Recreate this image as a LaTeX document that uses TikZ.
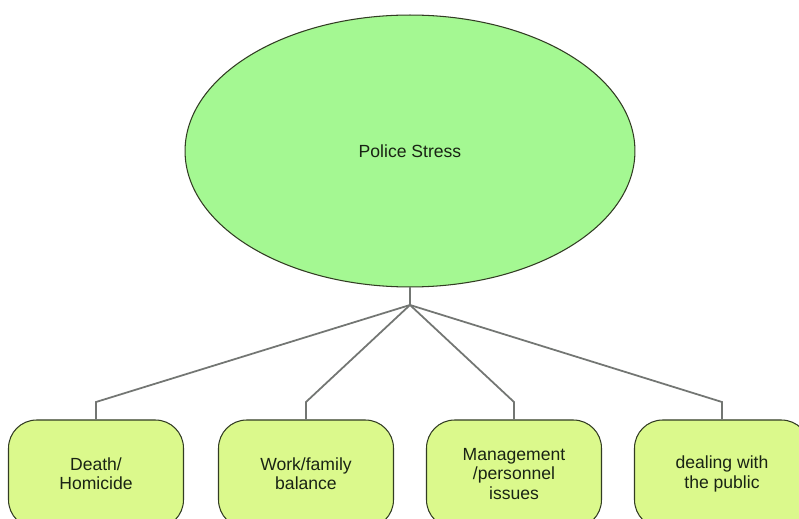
\documentclass[tikz,border=0pt]{standalone}
\usepackage{fontspec}
\setmainfont{Liberation Sans}
\usetikzlibrary{shapes.geometric}
\definecolor{stressgreen}{RGB}{164,248,146}
\definecolor{causegreen}{RGB}{219,249,140}
\definecolor{edgeolive}{RGB}{50,60,35}
\definecolor{linkgray}{RGB}{115,118,115}
\definecolor{textdark}{RGB}{25,35,20}
\tikzset{
    stressnode/.style={ellipse, draw=edgeolive, fill=stressgreen, line width=0.6pt,
        minimum width=9cm, minimum height=5.44cm, inner sep=0pt,
        text=textdark, font=\fontsize{10}{12}\selectfont},
    causebox/.style={rectangle, rounded corners=16pt, draw=edgeolive, fill=causegreen,
        line width=0.6pt, minimum width=3.5cm, minimum height=2.16cm, align=center,
        text=textdark, font=\fontsize{10}{11}\selectfont},
    link/.style={draw=linkgray, line width=1pt}
}
\begin{document}
\begin{tikzpicture}[x=0.02cm, y=0.02cm]
        \useasboundingbox (0,0) rectangle (799,518);
        \clip (0,0) rectangle (799,518);
        \fill[white] (0,0) rectangle (799,518);

        % 1. top ellipse
        \node[stressnode] (stress) at (410,367) {Police Stress};
        \coordinate (hub) at (410,213);

        % 2. causes
        \node[causebox] (death) at (96,44) {Death/\\Homicide};
        \node[causebox] (family) at (306,44) {Work/family\\balance};
        \node[causebox] (manage) at (514,44) {Management\\/personnel\\issues};
        \node[causebox] (public) at (722,44) {dealing with\\the public};

        % 3. bends above the boxes
        \coordinate (kdeath) at (96,116);
        \coordinate (kfamily) at (306,116);
        \coordinate (kmanage) at (514,116);
        \coordinate (kpublic) at (722,116);

        % 4. connectors
        \draw[link] (stress.south) -- (hub);
        \draw[link] (hub) -- (kdeath) -- (death.north);
        \draw[link] (hub) -- (kfamily) -- (family.north);
        \draw[link] (hub) -- (kmanage) -- (manage.north);
        \draw[link] (hub) -- (kpublic) -- (public.north);
    \end{tikzpicture}
\end{document}
